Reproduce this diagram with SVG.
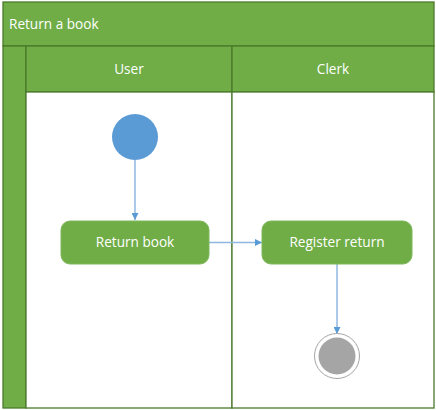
<svg xmlns="http://www.w3.org/2000/svg" width="436" height="410" viewBox="0 0 436 410">
<style>
.band{fill:#70AD47;stroke:#4A7A2C;stroke-width:1.3}
.lane{fill:#FFFFFF;stroke:#4A7A2C;stroke-width:1.3}
.hdr{font-family:"Open Sans","Noto Sans",sans-serif;font-size:13.6px;fill:#FFFFFF}
.act{fill:#70AD47;stroke:#7DB85A;stroke-width:1}
.con{fill:none;stroke:#8FB7E0;stroke-width:1.5}
</style>
<defs>
<marker id="arr" viewBox="0 0 10 10" refX="10" refY="5" markerWidth="7" markerHeight="7" markerUnits="userSpaceOnUse" orient="auto">
<path d="M0,0 L10,5 L0,10 z" fill="#5B9BD5"/>
</marker>
</defs>
<g id="pool">
<rect class="band" x="3" y="2" width="431" height="44"/>
<text class="hdr" x="9" y="29">Return a book</text>
<rect class="band" x="3" y="46" width="23" height="362"/>
</g>
<g id="lane-user">
<rect class="band" x="26" y="46" width="206" height="46"/>
<rect class="lane" x="26" y="92" width="206" height="316"/>
<text class="hdr" x="129" y="74" text-anchor="middle">User</text>
</g>
<g id="lane-clerk">
<rect class="band" x="232" y="46" width="202" height="46"/>
<rect class="lane" x="232" y="92" width="202" height="316"/>
<text class="hdr" x="333" y="74" text-anchor="middle">Clerk</text>
</g>
<g id="connectors">
<line class="con" x1="135" y1="160" x2="135" y2="220" marker-end="url(#arr)"/>
<line class="con" x1="209" y1="242.5" x2="262" y2="242.5" marker-end="url(#arr)"/>
<line class="con" x1="337" y1="264" x2="337" y2="334" marker-end="url(#arr)"/>
</g>
<g id="start">
<circle cx="135" cy="137" r="23" fill="#5B9BD5"/>
</g>
<g id="return-book">
<rect class="act" x="61" y="221" width="148" height="43" rx="9"/>
<text class="hdr" x="135" y="247" text-anchor="middle">Return book</text>
</g>
<g id="register-return">
<rect class="act" x="262" y="221" width="150" height="43" rx="9"/>
<text class="hdr" x="337" y="247" text-anchor="middle">Register return</text>
</g>
<g id="end">
<circle cx="337" cy="356" r="22.5" fill="#FFFFFF" stroke="#A5A5A5" stroke-width="1"/>
<circle cx="337" cy="356" r="18.5" fill="#A5A5A5"/>
</g>
</svg>
